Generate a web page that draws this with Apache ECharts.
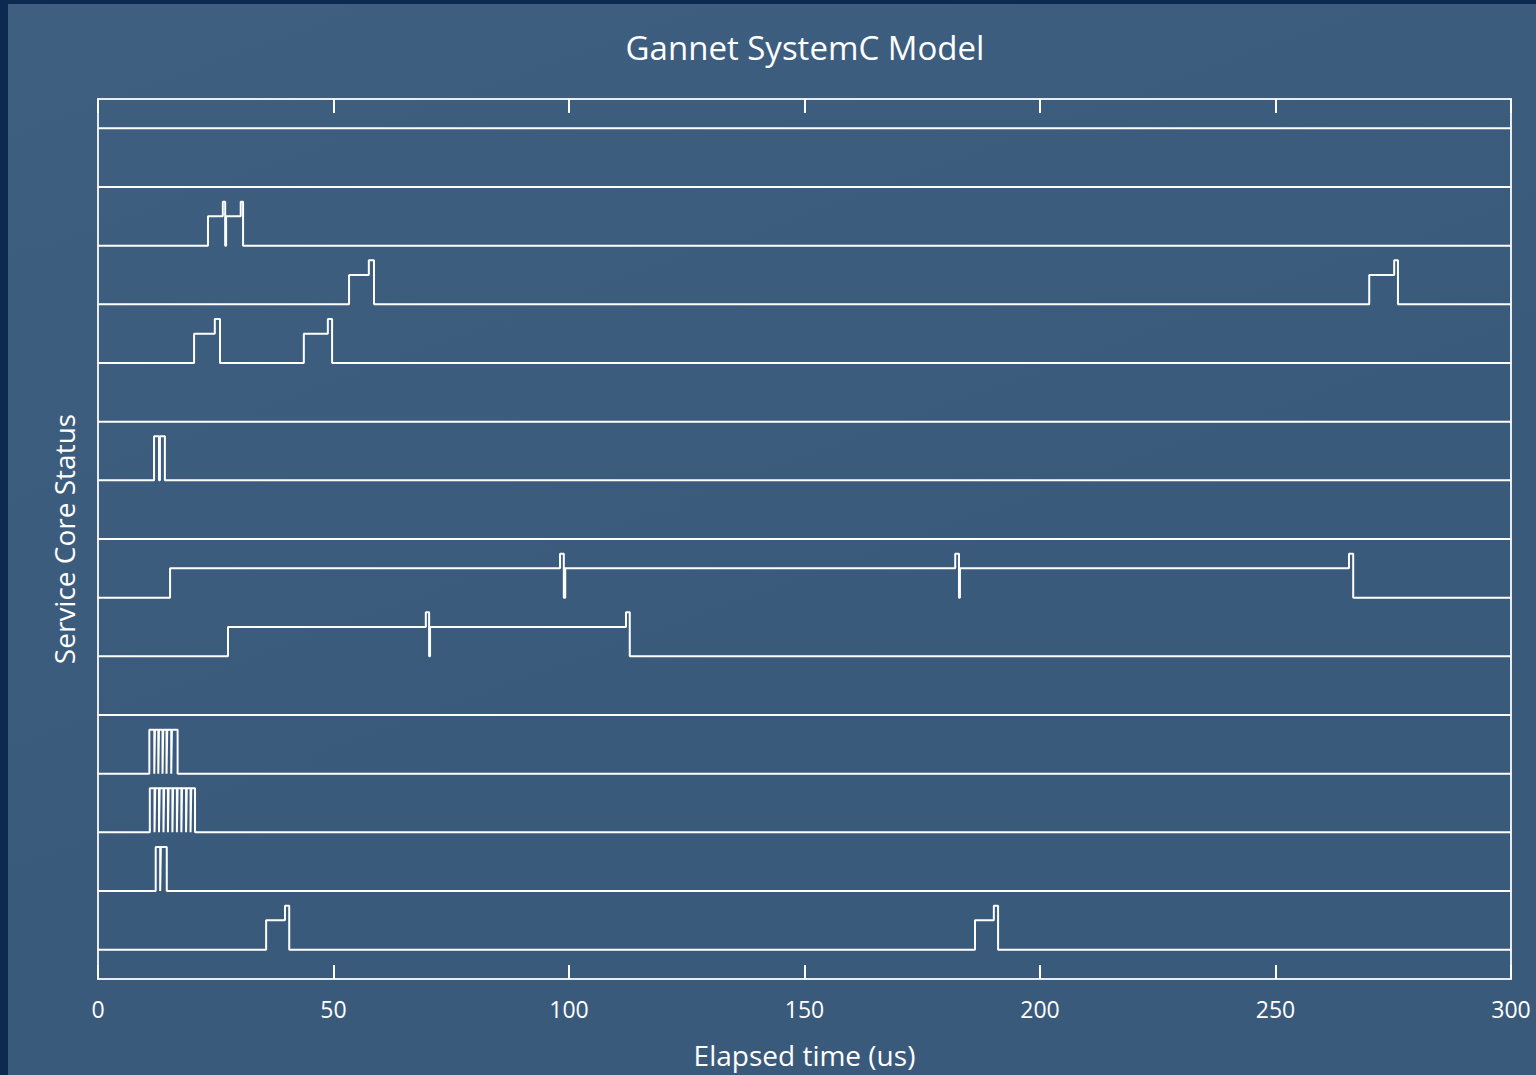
<!DOCTYPE html>
<html>
<head>
<meta charset="utf-8">
<script src="https://cdn.jsdelivr.net/npm/echarts@6/dist/echarts.min.js"></script>
<style>
  html, body { margin: 0; padding: 0; width: 1536px; height: 1075px; overflow: hidden; }
  #bg { position: absolute; left: 0; top: 0; width: 1528px; height: 1071px;
        border-left: 8px solid #0c2a4f; border-top: 4px solid #0c2a4f;
        background: linear-gradient(160deg, #3f5f80 0%, #3a5a7c 60%, #3a5a7b 100%); }
  #chart { position: absolute; left: 0; top: 0; width: 1536px; height: 1075px; }
</style>
</head>
<body>
<div id="bg"></div>
<div id="chart"></div>
<script>
// Status levels: 0 = idle, 0.5 = busy, 0.75 = active
const L = 0, M = 0.5, H = 0.75;

// Transition events per service core: [time (us), new level]
const core0  = [[35.7, M], [39.7, H], [40.6, L], [186.2, M], [190.2, H], [191.1, L]];
const core1  = [[12.25, H], [13.2, L], [13.35, H], [14.6, L]];
const core2  = [[11.0, H], [12.0, L], [12.15, H], [12.95, L], [13.1, H], [13.9, L], [14.05, H],
                [14.85, L], [15.0, H], [15.8, L], [15.95, H], [16.75, L], [16.9, H], [17.7, L],
                [17.85, H], [18.7, L], [18.85, H], [19.65, L], [19.8, H], [20.6, L]];
const core3  = [[10.9, H], [11.95, L], [12.1, H], [12.8, L], [12.95, H], [13.7, L], [13.85, H],
                [14.55, L], [14.7, H], [15.55, L], [15.7, H], [16.9, L]];
const core4  = [];
const core5  = [[27.6, M], [69.6, H], [70.3, L], [70.5, M], [112.1, H], [112.9, L]];
const core6  = [[15.3, M], [98.1, H], [98.9, L], [99.2, M], [182.0, H], [182.8, L], [183.0, M],
                [265.6, H], [266.5, L]];
const core7  = [];
const core8  = [[11.9, H], [12.95, L], [13.15, H], [14.2, L]];
const core9  = [];
const core10 = [[20.4, M], [24.8, H], [25.9, L], [43.7, M], [48.8, H], [49.7, L]];
const core11 = [[53.3, M], [57.5, H], [58.6, L], [269.9, M], [275.2, H], [276.0, L]];
const core12 = [[23.35, M], [26.5, H], [27.0, L], [27.2, M], [30.3, H], [30.8, L]];
const core13 = [];
const core14 = [];

const cores = [core0, core1, core2, core3, core4, core5, core6, core7,
               core8, core9, core10, core11, core12, core13, core14];

const xTicks = [0, 50, 100, 150, 200, 250, 300];
const tStart = 0, tEnd = 300;

function buildTrace(events, row) {
  const pts = [[tStart, row + L]];
  let prev = L;
  for (const [t, v] of events) {
    pts.push([t, row + prev]);
    pts.push([t, row + v]);
    prev = v;
  }
  pts.push([tEnd, row + prev]);
  return pts;
}

const FONT = 'Open Sans';
const WHITE = '#ffffff';
const FRAME = '#e8ecf0';

const series = cores.map((ev, i) => ({
  type: 'line',
  data: buildTrace(ev, i),
  showSymbol: false,
  symbol: 'none',
  lineStyle: { color: WHITE, width: 2 },
  animation: false,
  silent: true,
  clip: true
}));

const chart = echarts.init(document.getElementById('chart'), null, { renderer: 'svg' });
chart.setOption({
  backgroundColor: 'transparent',
  animation: false,
  title: {
    text: 'Gannet SystemC Model',
    left: 800, top: 26, textAlign: 'center',
    textStyle: { color: WHITE, fontFamily: FONT, fontSize: 33, fontWeight: 'normal' }
  },
  grid: { left: 98, right: 25, top: 99, bottom: 96, containLabel: false },
  xAxis: [
    {
      type: 'value', min: tStart, max: tEnd, interval: 50, position: 'bottom',
      name: 'Elapsed time (us)', nameLocation: 'middle', nameGap: 62,
      nameTextStyle: { color: WHITE, fontFamily: FONT, fontSize: 28 },
      axisLine: { show: true, onZero: false, lineStyle: { color: FRAME, width: 2 } },
      axisTick: { show: true, inside: true, length: 14, lineStyle: { color: WHITE, width: 2 } },
      axisLabel: { color: WHITE, fontFamily: FONT, fontSize: 23, margin: 18,
                   formatter: v => xTicks.includes(v) ? String(v) : '' },
      splitLine: { show: false }
    },
    {
      type: 'value', min: tStart, max: tEnd, interval: 50, position: 'top',
      axisLine: { show: true, onZero: false, lineStyle: { color: FRAME, width: 2 } },
      axisTick: { show: true, inside: true, length: 14, lineStyle: { color: WHITE, width: 2 } },
      axisLabel: { show: false },
      splitLine: { show: false }
    }
  ],
  yAxis: [
    {
      type: 'value', min: -0.5, max: 14.5, position: 'left',
      name: 'Service Core Status', nameLocation: 'middle', nameGap: 20, nameRotate: 90,
      nameTextStyle: { color: WHITE, fontFamily: FONT, fontSize: 28 },
      axisLine: { show: true, onZero: false, lineStyle: { color: FRAME, width: 2 } },
      axisTick: { show: false }, axisLabel: { show: false }, splitLine: { show: false }
    },
    {
      type: 'value', min: -0.5, max: 14.5, position: 'right',
      axisLine: { show: true, onZero: false, lineStyle: { color: FRAME, width: 2 } },
      axisTick: { show: false }, axisLabel: { show: false }, splitLine: { show: false }
    }
  ],
  series: series
});
</script>
</body>
</html>
